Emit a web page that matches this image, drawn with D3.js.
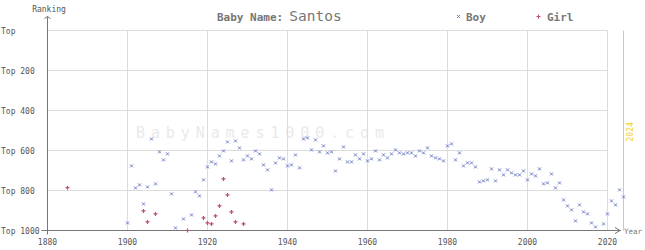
<!DOCTYPE html>
<html lang="en">
<head>
<meta charset="UTF-8">
<title>Baby Name: Santos</title>
<script src="https://cdn.jsdelivr.net/npm/d3@7/dist/d3.min.js"></script>
<style>
    body { margin: 0; background: #fff; }
    svg { display: block; font-family: "DejaVu Sans Mono", monospace; }
    .grid line { stroke: #dcdcdc; stroke-width: 1px; }
    .axis-line { stroke: #777; stroke-width: 1px; fill: none; }
    .tick-label { font-size: 8px; fill: #555; }
</style>
</head>
<body>
<svg id="chart" width="645" height="250"></svg>
<script>
// Boy ranking by year (missing years = not in top 1000)
const boyYears = [1900, 1901, 1902, 1903, 1904, 1905, 1906, 1907, 1908, 1909, 1910, 1911, 1912, 1914, 1916, 1917, 1918, 1919,
    1920, 1921, 1922, 1923, 1924, 1925, 1926, 1927, 1928, 1929, 1930, 1931, 1932, 1933, 1934, 1935, 1936, 1937, 1938, 1939,
    1940, 1941, 1942, 1943, 1944, 1945, 1946, 1947, 1948, 1949, 1950, 1951, 1952, 1953, 1954, 1955, 1956, 1957, 1958, 1959,
    1960, 1961, 1962, 1963, 1964, 1965, 1966, 1967, 1968, 1969, 1970, 1971, 1972, 1973, 1974, 1975, 1976, 1977, 1978, 1979,
    1980, 1981, 1982, 1983, 1984, 1985, 1986, 1987, 1988, 1989, 1990, 1991, 1992, 1993, 1994, 1995, 1996, 1997, 1998, 1999,
    2000, 2001, 2002, 2003, 2004, 2005, 2006, 2007, 2008, 2009, 2010, 2011, 2012, 2013, 2014, 2015, 2016, 2017, 2019,
    2020, 2021, 2022, 2023, 2024];
const boyRanks = [962, 677, 787, 772, 867, 782, 542, 767, 607, 647, 617, 817, 987, 942, 922, 807, 827, 747,
    682, 657, 667, 627, 602, 557, 652, 552, 587, 647, 627, 642, 602, 617, 672, 697, 797, 662, 637, 642,
    677, 672, 622, 687, 542, 537, 597, 547, 607, 577, 612, 607, 702, 642, 582, 657, 657, 622, 642, 617,
    652, 642, 602, 647, 622, 637, 617, 597, 612, 617, 612, 612, 627, 602, 612, 587, 627, 637, 642, 652,
    577, 567, 647, 612, 677, 662, 662, 682, 757, 752, 747, 692, 752, 697, 722, 697, 712, 722, 722, 702,
    747, 717, 727, 692, 767, 762, 717, 787, 762, 847, 877, 897, 952, 872, 907, 917, 962, 982, 967,
    917, 852, 872, 797, 832];

// Girl ranking by year
const girlYears = [1885, 1904, 1905, 1907, 1915, 1919, 1920, 1921, 1922, 1923, 1924, 1925, 1926, 1927, 1929];
const girlRanks = [786, 902, 957, 917, 1000, 937, 962, 967, 927, 877, 742, 822, 907, 957, 967];

const xTicks = [1880, 1900, 1920, 1940, 1960, 1980, 2000, 2020];
const yTicks = [0, 200, 400, 600, 800, 1000];
const yTickLabels = ["Top", "Top 200", "Top 400", "Top 600", "Top 800", "Top 1000"];

const boyColor = "#6f80c4";
const girlColor = "#c24b78";

const svg = d3.select("#chart");

const x = d3.scaleLinear().domain([1880, 2024]).range([47.5, 623.5]);
const y = d3.scaleLinear().domain([0, 1000]).range([30.5, 230.5]);

// watermark
svg.append("text")
    .attr("x", 136).attr("y", 138)
    .attr("font-size", 15)
    .attr("letter-spacing", 5.9)
    .attr("fill", "#eaeaea")
    .text("BabyNames1000.com");

// grid
const grid = svg.append("g").attr("class", "grid");
grid.selectAll(".h").data(yTicks.slice(0, -1)).enter().append("line")
    .attr("x1", x(1880)).attr("x2", x(2020))
    .attr("y1", d => y(d)).attr("y2", d => y(d));
grid.selectAll(".v").data(xTicks.slice(1)).enter().append("line")
    .attr("x1", d => x(d)).attr("x2", d => x(d))
    .attr("y1", y(0)).attr("y2", y(1000));

// current year marker
svg.append("line")
    .attr("x1", x(2024)).attr("x2", x(2024))
    .attr("y1", y(0)).attr("y2", y(1000))
    .attr("stroke", "#f2d31b").attr("stroke-width", 1);
svg.append("text")
    .attr("transform", `translate(${x(2024) + 9},${y(0) + 111}) rotate(-90)`)
    .attr("font-size", 8).attr("fill", "#f0d020")
    .text("2024");

// axes
svg.append("path").attr("class", "axis-line")
    .attr("d", `M${x(1880)},${y(1000) + 4}V16.5`);
svg.append("path").attr("class", "axis-line")
    .attr("d", `M${x(1880) - 3},18.5L${x(1880)},16.5L${x(1880) + 3},18.5`);
svg.append("path").attr("class", "axis-line")
    .attr("d", `M${x(1880) - 6},${y(1000)}H621`);
svg.append("path").attr("class", "axis-line")
    .attr("d", `M615,${y(1000) - 3}L620,${y(1000)}L615,${y(1000) + 3}`);

svg.append("text").attr("x", 49).attr("y", 12)
    .attr("text-anchor", "middle").attr("font-size", 8).attr("fill", "#555")
    .text("Ranking");
svg.append("text").attr("x", 624).attr("y", 233.5)
    .attr("font-size", 7.5).attr("fill", "#777")
    .text("Year");

svg.selectAll(".ytick").data(yTicks).enter().append("text")
    .attr("class", "tick-label")
    .attr("x", 1).attr("y", d => y(d) + 3)
    .text((d, i) => yTickLabels[i]);

svg.selectAll(".xtick").data(xTicks).enter().append("text")
    .attr("class", "tick-label")
    .attr("x", d => x(d)).attr("y", 245)
    .attr("text-anchor", "middle")
    .text(d => d);

// title
const title = svg.append("text").attr("x", 217).attr("y", 21).attr("fill", "#777");
title.append("tspan").attr("font-size", 11).attr("font-weight", "bold").text("Baby Name:");
title.append("tspan").attr("dx", 6).attr("font-size", 14.5).text("Santos");

// legend
const crossPath = "M-1.5,-1.5L1.5,1.5M-1.5,1.5L1.5,-1.5";
const plusPath = "M-2,0H2M0,-2V2";
svg.append("path").attr("d", crossPath).attr("transform", "translate(458.5,16.5)")
    .attr("stroke", boyColor).attr("fill", "none");
svg.append("text").attr("x", 466).attr("y", 21).attr("font-size", 11).attr("font-weight", "bold")
    .attr("fill", "#777").text("Boy");
svg.append("path").attr("d", plusPath).attr("transform", "translate(538.5,16.5)")
    .attr("stroke", girlColor).attr("fill", "none");
svg.append("text").attr("x", 547).attr("y", 21).attr("font-size", 11).attr("font-weight", "bold")
    .attr("fill", "#777").text("Girl");

// points
svg.append("g").selectAll("path").data(boyYears).enter().append("path")
    .attr("d", crossPath)
    .attr("transform", (d, i) => `translate(${x(d)},${y(boyRanks[i])})`)
    .attr("stroke", boyColor).attr("stroke-width", 1).attr("fill", "none");

svg.append("g").selectAll("path").data(girlYears).enter().append("path")
    .attr("d", plusPath)
    .attr("transform", (d, i) => `translate(${x(d)},${y(girlRanks[i])})`)
    .attr("stroke", girlColor).attr("stroke-width", 1.2).attr("fill", "none");
</script>
</body>
</html>
